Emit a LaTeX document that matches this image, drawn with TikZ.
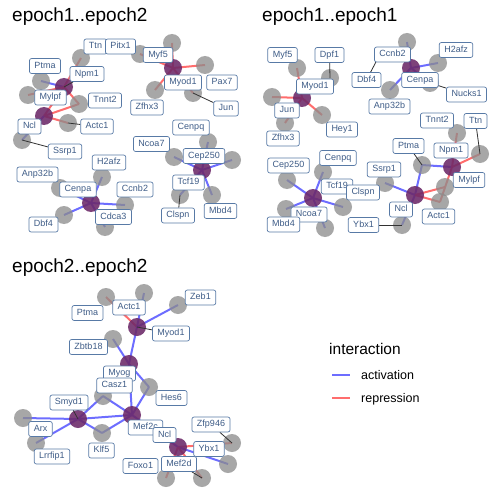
\documentclass[tikz,border=0pt]{standalone}
\usepackage{fontspec}
\setmainfont{Liberation Sans}
\pgfdeclarelayer{bglayer}
\pgfdeclarelayer{edgelayer}
\pgfdeclarelayer{lbllayer}
\pgfsetlayers{bglayer,edgelayer,main,lbllayer}
\definecolor{grayn}{RGB}{140,140,140}
\definecolor{purpn}{RGB}{108,40,104}
\definecolor{actc}{RGB}{102,102,255}
\definecolor{repc}{RGB}{255,102,102}
\definecolor{lbltxt}{RGB}{62,92,135}
\definecolor{lblbrd}{RGB}{88,122,166}
\definecolor{leadc}{RGB}{50,50,50}
\tikzset{
  graynode/.style={circle,fill=grayn,fill opacity=0.76,draw=none,minimum size=18pt,inner sep=0pt},
  purpnode/.style={circle,fill=purpn,fill opacity=0.88,draw=none,minimum size=18pt,inner sep=0pt},
  actedge/.style={draw=actc,line width=2pt,draw opacity=0.95},
  repedge/.style={draw=repc,line width=2pt,draw opacity=0.95},
  leader/.style={draw=leadc,line width=0.8pt},
  lbl/.style={draw=lblbrd,fill=white,rounded corners=2pt,line width=0.7pt,text=lbltxt,
    font=\fontsize{9}{10}\selectfont,inner xsep=5pt,inner ysep=3.3pt,text height=6.5pt,text depth=1.8pt},
  ptitle/.style={anchor=base west,inner sep=0pt,font=\fontsize{19}{22}\selectfont},
  legtitle/.style={anchor=base west,inner sep=0pt,font=\fontsize{15.5}{18}\selectfont},
  legtext/.style={anchor=base west,inner sep=0pt,font=\fontsize{12.5}{15}\selectfont},
}
\newcommand\mkgray[3]{\node[graynode] (#1) at (#2,#3) {};}
\newcommand\mkpurp[3]{\node[purpnode] (#1) at (#2,#3) {};}
\newcommand\mklab[4]{\node[lbl] (#1) at (#2,#3) {#4};}
\newcommand\actE[2]{\draw[actedge] (#1.center) -- (#2.center);}
\newcommand\repE[2]{\draw[repedge] (#1.center) -- (#2.center);}
\newcommand\leadE[2]{\draw[leader] (#1) -- (#2.center);}
\begin{document}
\begin{tikzpicture}[x=1pt,y=-1pt]
\begin{pgfonlayer}{bglayer}
\fill[white] (0,0) rectangle (500,500);
\end{pgfonlayer}
\useasboundingbox (0,0) rectangle (500,500);
% titles
\node[ptitle] (t1) at (12,22) {epoch1..epoch2};
\node[ptitle] (t2) at (262,22) {epoch1..epoch1};
\node[ptitle] (t3) at (12,272) {epoch2..epoch2};
% ===== panel A nodes
\mkgray{aTtn}{81}{58}
\mkgray{aPitx1}{140}{54}
\mkgray{aMyf5}{172}{43}
\mkpurp{aMyod1}{173}{68}
\mkgray{aPax7}{205}{65}
\mkgray{aJun}{193}{93}
\mkgray{aZfhx3}{155}{90}
\mkgray{aPtma}{41}{81}
\mkpurp{aNpm1}{64}{87}
\mkgray{aMylpf}{28}{95}
\mkpurp{aNcl}{44}{116}
\mkgray{aTnnt2}{79}{104}
\mkgray{aActc1}{68}{123}
\mkgray{aSsrp1}{22}{140}
\mkgray{aCenpq}{208}{142}
\mkgray{aNcoa7}{174}{157}
\mkgray{aTcf19}{232}{160}
\mkpurp{aCep250}{202}{170}
\mkgray{aMbd4}{212}{195}
\mkgray{aClspn}{180}{195}
\mkgray{aH2afz}{102}{177}
\mkgray{aAnp32b}{60}{188}
\mkpurp{aCenpa}{91}{203}
\mkgray{aCcnb2}{125}{205}
\mkgray{aCdca3}{105}{227}
\mkgray{aDbf4}{64}{215}
% ===== panel B nodes
\mkgray{bMyf5}{297}{68}
\mkgray{bDpf1}{330}{78}
\mkgray{bJun}{272}{97}
\mkpurp{bMyod1}{302}{98}
\mkgray{bHey1}{322}{115}
\mkgray{bZfhx3}{285}{123}
\mkgray{bCcnb2}{407}{42}
\mkpurp{bCenpa}{411}{68}
\mkgray{bH2afz}{438}{63}
\mkgray{bAnp32b}{390}{90}
\mkgray{bNucks1}{430}{83}
\coordinate (bDbf4) at (378,58);
\mkgray{bTnnt2}{457}{133}
\mkgray{bTtn}{480}{154}
\mkgray{bPtma}{422}{165}
\mkpurp{bNpm1}{452}{167}
\mkgray{bSsrp1}{385}{183}
\mkpurp{bNcl}{415}{195}
\mkgray{bMylpf}{445}{187}
\mkgray{bActc1}{440}{202}
\mkgray{bYbx1}{402}{225}
\mkgray{bCep250}{287}{180}
\mkgray{bCenpq}{323}{172}
\mkpurp{bNcoa7}{313}{198}
\mkgray{bTcf19}{343}{207}
\mkgray{bMbd4}{286}{209}
\mkgray{bClspn}{325}{228}
% ===== panel C nodes
\mkgray{cPtma}{106}{297}
\mkgray{cActc1}{144}{293}
\mkgray{cZeb1}{178}{305}
\mkpurp{cMyod1}{137}{327}
\mkgray{cZbtb18}{113}{339}
\mkpurp{cMyog}{129}{364}
\mkgray{cHes6}{149}{387}
\mkgray{cCasz1}{103}{396}
\mkpurp{cMef2c}{132}{415}
\mkpurp{cSmyd1}{78}{419}
\mkgray{cArx}{23}{418}
\mkgray{cLrrfip1}{36}{443}
\mkgray{cKlf5}{102}{433}
\mkpurp{cNcl}{178}{447}
\mkgray{cZfp946}{232}{443}
\mkgray{cYbx1}{228}{464}
\mkgray{cFoxo1}{166}{478}
\mkgray{cMef2d}{202}{478}
% ===== edges
\begin{pgfonlayer}{edgelayer}
\repE{aTtn}{aNpm1}
\repE{aPitx1}{aMyod1}
\repE{aMyf5}{aMyod1}
\repE{aMyod1}{aPax7}
\repE{aMyod1}{aZfhx3}
\repE{aMyod1}{aJun}
\actE{aPtma}{aNpm1}
\repE{aMylpf}{aNpm1}
\repE{aNpm1}{aTnnt2}
\repE{aNcl}{aTnnt2}
\repE{aNcl}{aActc1}
\repE{aNpm1}{aNcl}
\actE{aSsrp1}{aNcl}
\actE{aCep250}{aCenpq}
\actE{aCep250}{aNcoa7}
\actE{aCep250}{aTcf19}
\actE{aCep250}{aMbd4}
\actE{aCep250}{aClspn}
\actE{aCenpa}{aH2afz}
\actE{aCenpa}{aAnp32b}
\actE{aCenpa}{aCcnb2}
\actE{aCenpa}{aCdca3}
\actE{aCenpa}{aDbf4}
\repE{bMyf5}{bMyod1}
\repE{bJun}{bMyod1}
\repE{bMyod1}{bHey1}
\repE{bZfhx3}{bMyod1}
\actE{bCenpa}{bH2afz}
\actE{bCenpa}{bAnp32b}
\actE{bCenpa}{bNucks1}
\actE{bCenpa}{bCcnb2}
\actE{bPtma}{bNpm1}
\actE{bPtma}{bNcl}
\actE{bSsrp1}{bNcl}
\actE{bNcl}{bYbx1}
\repE{bNpm1}{bTtn}
\repE{bNcl}{bMylpf}
\repE{bNpm1}{bActc1}
\repE{bNcl}{bActc1}
\repE{bNpm1}{bTnnt2}
\actE{bNcoa7}{bCep250}
\actE{bNcoa7}{bCenpq}
\actE{bNcoa7}{bTcf19}
\actE{bNcoa7}{bMbd4}
\actE{bNcoa7}{bClspn}
\repE{cPtma}{cMyod1}
\actE{cActc1}{cMyod1}
\actE{cZeb1}{cMyod1}
\actE{cZbtb18}{cMyog}
\actE{cMyod1}{cMyog}
\actE{cMyog}{cHes6}
\actE{cHes6}{cMef2c}
\actE{cMyog}{cMef2c}
\actE{cCasz1}{cMef2c}
\actE{cCasz1}{cSmyd1}
\actE{cSmyd1}{cArx}
\actE{cSmyd1}{cLrrfip1}
\actE{cSmyd1}{cMef2c}
\actE{cSmyd1}{cKlf5}
\actE{cKlf5}{cMef2c}
\actE{cMef2c}{cNcl}
\repE{cNcl}{cZfp946}
\actE{cNcl}{cYbx1}
\repE{cNcl}{cFoxo1}
\repE{cNcl}{cMef2d}
\end{pgfonlayer}
% ===== labels
\begin{pgfonlayer}{lbllayer}
\mklab{laTtn}{95.5}{46.5}{Ttn}
\mklab{laPitx1}{120.5}{46.5}{Pitx1}
\mklab{laMyf5}{158}{55}{Myf5}
\mklab{laPtma}{45}{66}{Ptma}
\mklab{laNpm1}{87}{74}{Npm1}
\mklab{laMyod1}{183}{82.5}{Myod1}
\mklab{laPax7}{222}{82.5}{Pax7}
\mklab{laMylpf}{50.5}{97.5}{Mylpf}
\mklab{laTnnt2}{105}{100.5}{Tnnt2}
\mklab{laZfhx3}{147}{107.5}{Zfhx3}
\mklab{laJun}{226}{108.5}{Jun}
\mklab{laNcl}{29.5}{126.5}{Ncl}
\mklab{laActc1}{97}{126.5}{Actc1}
\mklab{laCenpq}{191}{127.5}{Cenpq}
\mklab{laNcoa7}{151.5}{144}{Ncoa7}
\mklab{laSsrp1}{65}{151.5}{Ssrp1}
\mklab{laCep250}{204}{156}{Cep250}
\mklab{laH2afz}{109}{162.5}{H2afz}
\mklab{laAnp32b}{37.5}{174.5}{Anp32b}
\mklab{laTcf19}{188.5}{182.5}{Tcf19}
\mklab{laCcnb2}{135}{189.5}{Ccnb2}
\mklab{laCenpa}{78}{189.5}{Cenpa}
\mklab{laCdca3}{113.5}{217}{Cdca3}
\mklab{laClspn}{178}{215.5}{Clspn}
\mklab{laMbd4}{220.5}{211}{Mbd4}
\mklab{laDbf4}{43.5}{224.5}{Dbf4}
%
\mklab{lbMyf5}{282.5}{55}{Myf5}
\mklab{lbDpf1}{329.5}{55}{Dpf1}
\mklab{lbMyod1}{315}{86.5}{Myod1}
\mklab{lbJun}{287}{110.5}{Jun}
\mklab{lbHey1}{342}{129.5}{Hey1}
\mklab{lbZfhx3}{283}{138.5}{Zfhx3}
\mklab{lbCcnb2}{392.5}{54.5}{Ccnb2}
\mklab{lbH2afz}{456}{50}{H2afz}
\mklab{lbDbf4}{366.5}{80}{Dbf4}
\mklab{lbCenpa}{420}{80}{Cenpa}
\mklab{lbNucks1}{466.5}{94.5}{Nucks1}
\mklab{lbAnp32b}{389.5}{106.5}{Anp32b}
\mklab{lbTnnt2}{437}{120.5}{Tnnt2}
\mklab{lbTtn}{475.5}{121}{Ttn}
\mklab{lbPtma}{408.5}{146}{Ptma}
\mklab{lbNpm1}{451}{150.5}{Npm1}
\mklab{lbCep250}{288.5}{165.5}{Cep250}
\mklab{lbCenpq}{338}{158}{Cenpq}
\mklab{lbSsrp1}{384}{169.5}{Ssrp1}
\mklab{lbMylpf}{469}{180}{Mylpf}
\mklab{lbTcf19}{337}{186.5}{Tcf19}
\mklab{lbClspn}{363}{192.5}{Clspn}
\mklab{lbNcl}{401}{209.5}{Ncl}
\mklab{lbActc1}{438.5}{216.5}{Actc1}
\mklab{lbNcoa7}{309}{214.5}{Ncoa7}
\mklab{lbMbd4}{283.5}{224.5}{Mbd4}
\mklab{lbYbx1}{363.5}{225}{Ybx1}
%
\mklab{lcZeb1}{200.5}{297.5}{Zeb1}
\mklab{lcActc1}{129}{307.5}{Actc1}
\mklab{lcPtma}{87.5}{313}{Ptma}
\mklab{lcMyod1}{171}{333.5}{Myod1}
\mklab{lcZbtb18}{88.5}{347}{Zbtb18}
\mklab{lcMyog}{119.5}{373.5}{Myog}
\mklab{lcCasz1}{114.5}{385.5}{Casz1}
\mklab{lcHes6}{171.5}{398}{Hes6}
\mklab{lcSmyd1}{69}{402.5}{Smyd1}
\mklab{lcArx}{40.5}{429}{Arx}
\mklab{lcMef2c}{145.5}{427.5}{Mef2c}
\mklab{lcNcl}{164.5}{435}{Ncl}
\mklab{lcZfp946}{211}{424.5}{Zfp946}
\mklab{lcKlf5}{101.5}{450.5}{Klf5}
\mklab{lcYbx1}{209}{449}{Ybx1}
\mklab{lcLrrfip1}{52}{456.5}{Lrrfip1}
\mklab{lcFoxo1}{140.5}{466}{Foxo1}
\mklab{lcMef2d}{179}{464}{Mef2d}
\end{pgfonlayer}
% ===== leader segments
\leadE{laNpm1}{aNpm1}
\leadE{laJun}{aJun}
\leadE{laActc1}{aActc1}
\leadE{laSsrp1}{aSsrp1}
\leadE{laClspn}{aClspn}
\leadE{lbDpf1}{bDpf1}
\leadE{lbDbf4}{bDbf4}
\leadE{lbNucks1}{bNucks1}
\leadE{lbPtma}{bPtma}
\leadE{lbTtn}{bTtn}
\leadE{lbYbx1}{bYbx1}
\leadE{lcMyod1}{cMyod1}
\leadE{lcSmyd1}{cSmyd1}
\leadE{lcZfp946}{cZfp946}
\leadE{lcMef2d}{cMef2d}
% ===== legend
\node[legtitle] (legT) at (329,354) {interaction};
\coordinate (la1) at (332,375);
\coordinate (la2) at (350,375);
\coordinate (lr1) at (332,398);
\coordinate (lr2) at (350,398);
\draw[actedge] (la1) -- (la2);
\draw[repedge] (lr1) -- (lr2);
\node[legtext] (legA) at (361,379.5) {activation};
\node[legtext] (legR) at (361,402.5) {repression};
\end{tikzpicture}
\end{document}
